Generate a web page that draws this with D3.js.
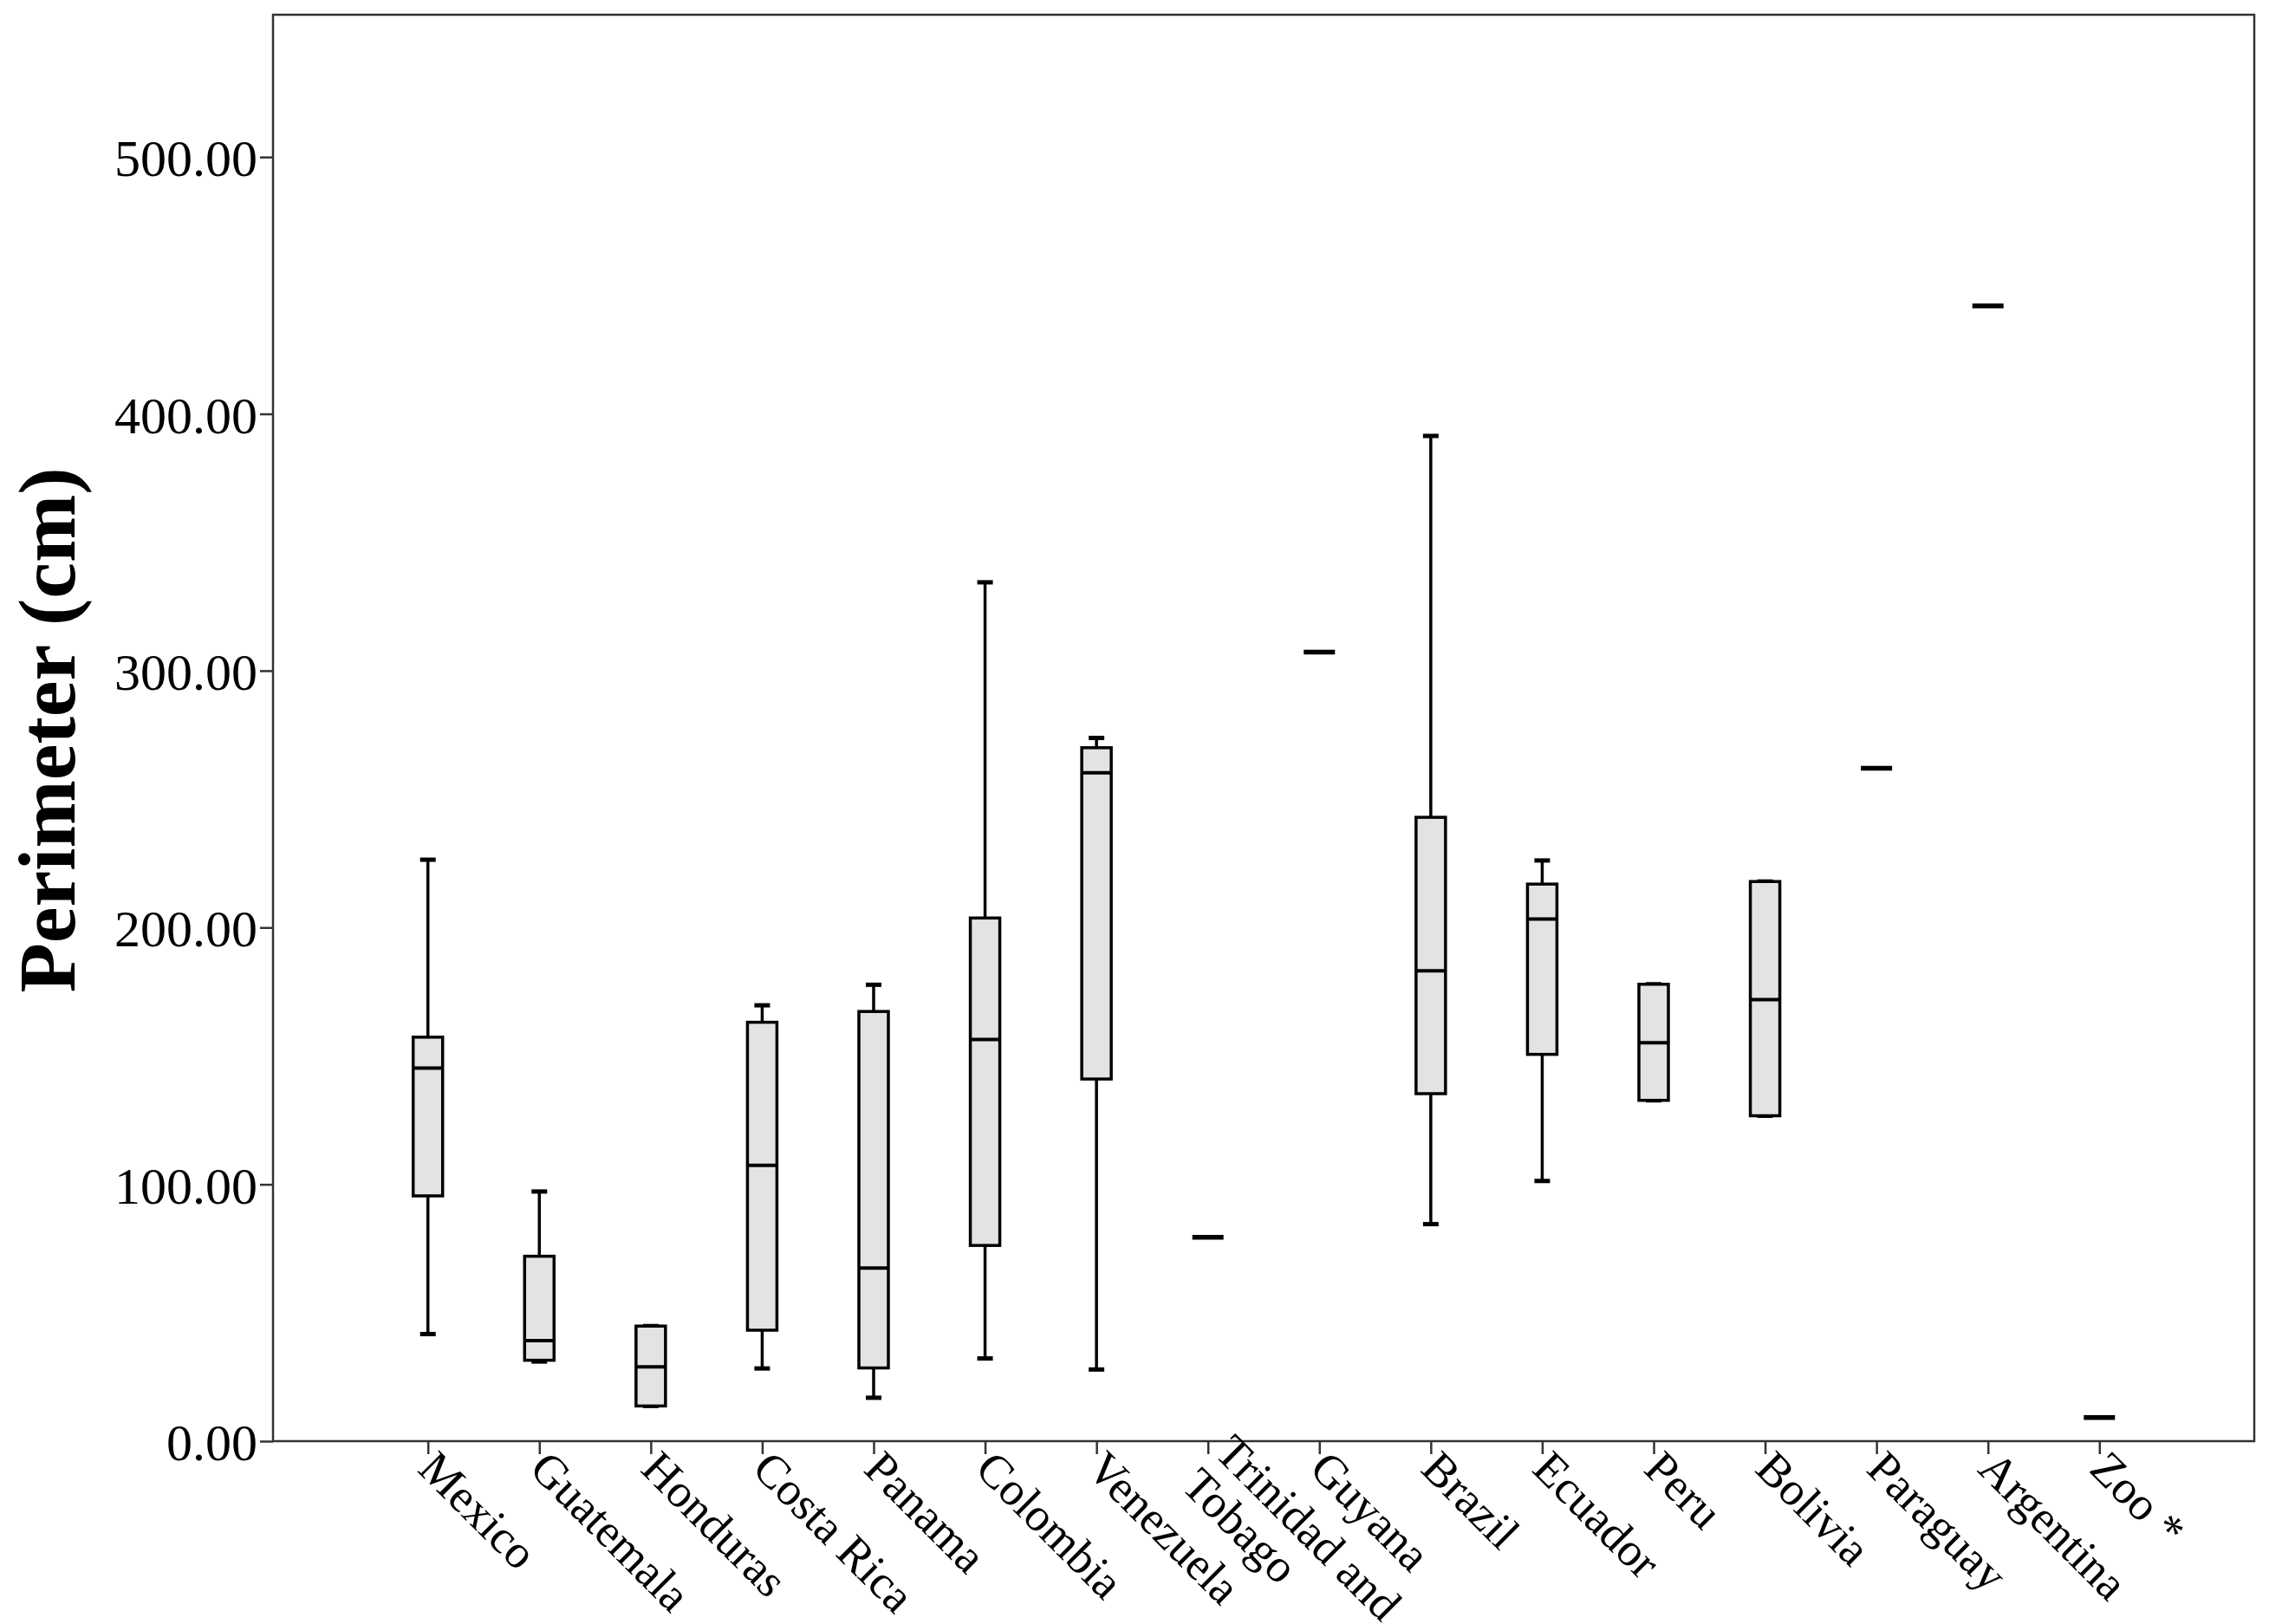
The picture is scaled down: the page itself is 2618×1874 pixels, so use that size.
<!DOCTYPE html>
<html>
<head>
<meta charset="utf-8">
<script src="https://cdn.jsdelivr.net/npm/d3@7"></script>
<style>
  html, body { margin: 0; padding: 0; background: #fff; }
  svg { display: block; }
  text { font-family: "Liberation Serif", "Times New Roman", serif; fill: #000; }
</style>
</head>
<body>
<script>
// ---- data ----
const categories = ["Mexico", "Guatemala", "Honduras", "Costa Rica", "Panama", "Colombia",
  "Venezuela", "Trinidad and\nTobago", "Guyana", "Brazil", "Ecuador", "Peru", "Bolivia",
  "Paraguay", "Argentina", "Zoo *"];
const whiskerLow  = [41.7, 31.0, 13.7, 28.3, 16.9, 32.2, 27.9, 79.4, 307.2, 84.5, 101.3, 132.7, 126.7, 262.0, 442.0, 9.2];
const quartile1   = [95.5, 31.5, 13.7, 43.2, 28.5, 76.2, 141.0, 79.4, 307.2, 135.3, 150.6, 132.7, 126.7, 262.0, 442.0, 9.2];
const medians     = [145.3, 39.1, 28.9, 107.4, 67.4, 156.4, 260.2, 79.4, 307.2, 183.1, 203.3, 155.1, 171.9, 262.0, 442.0, 9.2];
const quartile3   = [157.3, 72.0, 44.8, 163.1, 167.3, 203.7, 270.0, 79.4, 307.2, 242.9, 216.9, 177.9, 217.9, 262.0, 442.0, 9.2];
const whiskerHigh = [226.4, 97.2, 44.8, 169.7, 177.7, 334.4, 273.8, 79.4, 307.2, 391.4, 226.1, 177.9, 217.9, 262.0, 442.0, 9.2];
const yTicks = [0, 100, 200, 300, 400, 500];
const yTitle = "Perimeter (cm)";

// ---- layout ----
const W = 2618, H = 1874;
const pL = 315, pR = 2601, pT = 17, pB = 1663;

const svg = d3.select("body").append("svg").attr("width", W).attr("height", H);

const x = d3.scalePoint().domain(categories).range([pL, pR]).padding(1.39);
const y = d3.scaleLinear().domain([0, 555.4]).range([pB, pT]);

const rows = categories.map((c, i) => ({
  c, lo: whiskerLow[i], q1: quartile1[i], med: medians[i], q3: quartile3[i], hi: whiskerHigh[i]
}));

// frame
svg.append("rect").attr("x", pL).attr("y", pT).attr("width", pR - pL).attr("height", pB - pT)
  .attr("fill", "none").attr("stroke", "#333").attr("stroke-width", 2.5);

// y axis
const yAxis = d3.axisLeft(y).tickValues(yTicks).tickFormat(d3.format(".2f")).tickSize(15).tickPadding(3);
const gy = svg.append("g").attr("transform", `translate(${pL},0)`).call(yAxis);
gy.select(".domain").remove();
gy.selectAll(".tick line").attr("stroke", "#333").attr("stroke-width", 2.5);
gy.selectAll(".tick text").style("font-size", "60px").attr("dy", "0.36em")
  .style("font-family", '"Liberation Serif", serif');

// x axis
const xAxis = d3.axisBottom(x).tickSize(15).tickFormat("");
const gx = svg.append("g").attr("transform", `translate(0,${pB})`).call(xAxis);
gx.select(".domain").remove();
gx.selectAll(".tick line").attr("stroke", "#333").attr("stroke-width", 2.5);

// x labels rotated 45deg, block centred on the tick
const fs = 54;
categories.forEach(c => {
  const lines = c.split("\n");
  const t = svg.append("text")
    .attr("transform", `translate(${x(c)},${pB + 21}) rotate(45)`)
    .style("font-size", fs + "px")
    .attr("text-anchor", "start");
  lines.forEach((ln, j) => {
    const first = 0.35 - 0.5 * (lines.length - 1);
    t.append("tspan").attr("x", 0)
      .attr("dy", (j === 0 ? first : 1.0) + "em")
      .text(ln);
  });
});

// y title
svg.append("text")
  .attr("transform", `translate(86,${(540 + 1145) / 2}) rotate(-90)`)
  .attr("text-anchor", "middle")
  .style("font-size", "94px").style("font-weight", "bold")
  .text(yTitle);

// boxes
const bw = 34, cw = 18, sw = 36;
const g = svg.append("g");
rows.forEach(d => {
  const cx = x(d.c);
  if (d.q1 === d.q3 && d.lo === d.hi) {
    g.append("line").attr("x1", cx - sw / 2).attr("x2", cx + sw / 2)
      .attr("y1", y(d.med)).attr("y2", y(d.med))
      .attr("stroke", "#000").attr("stroke-width", 5.5);
    return;
  }
  // whiskers
  g.append("line").attr("x1", cx).attr("x2", cx).attr("y1", y(d.hi)).attr("y2", y(d.q3))
    .attr("stroke", "#000").attr("stroke-width", 3.5);
  g.append("line").attr("x1", cx).attr("x2", cx).attr("y1", y(d.q1)).attr("y2", y(d.lo))
    .attr("stroke", "#000").attr("stroke-width", 3.5);
  // caps
  [d.hi, d.lo].forEach(v => {
    g.append("line").attr("x1", cx - cw / 2).attr("x2", cx + cw / 2).attr("y1", y(v)).attr("y2", y(v))
      .attr("stroke", "#000").attr("stroke-width", 5);
  });
  // box
  g.append("rect").attr("x", cx - bw / 2).attr("width", bw)
    .attr("y", y(d.q3)).attr("height", y(d.q1) - y(d.q3))
    .attr("fill", "#e3e3e3").attr("stroke", "#000").attr("stroke-width", 3.5);
  // median
  g.append("line").attr("x1", cx - bw / 2).attr("x2", cx + bw / 2)
    .attr("y1", y(d.med)).attr("y2", y(d.med))
    .attr("stroke", "#000").attr("stroke-width", 4);
});
</script>
</body>
</html>
